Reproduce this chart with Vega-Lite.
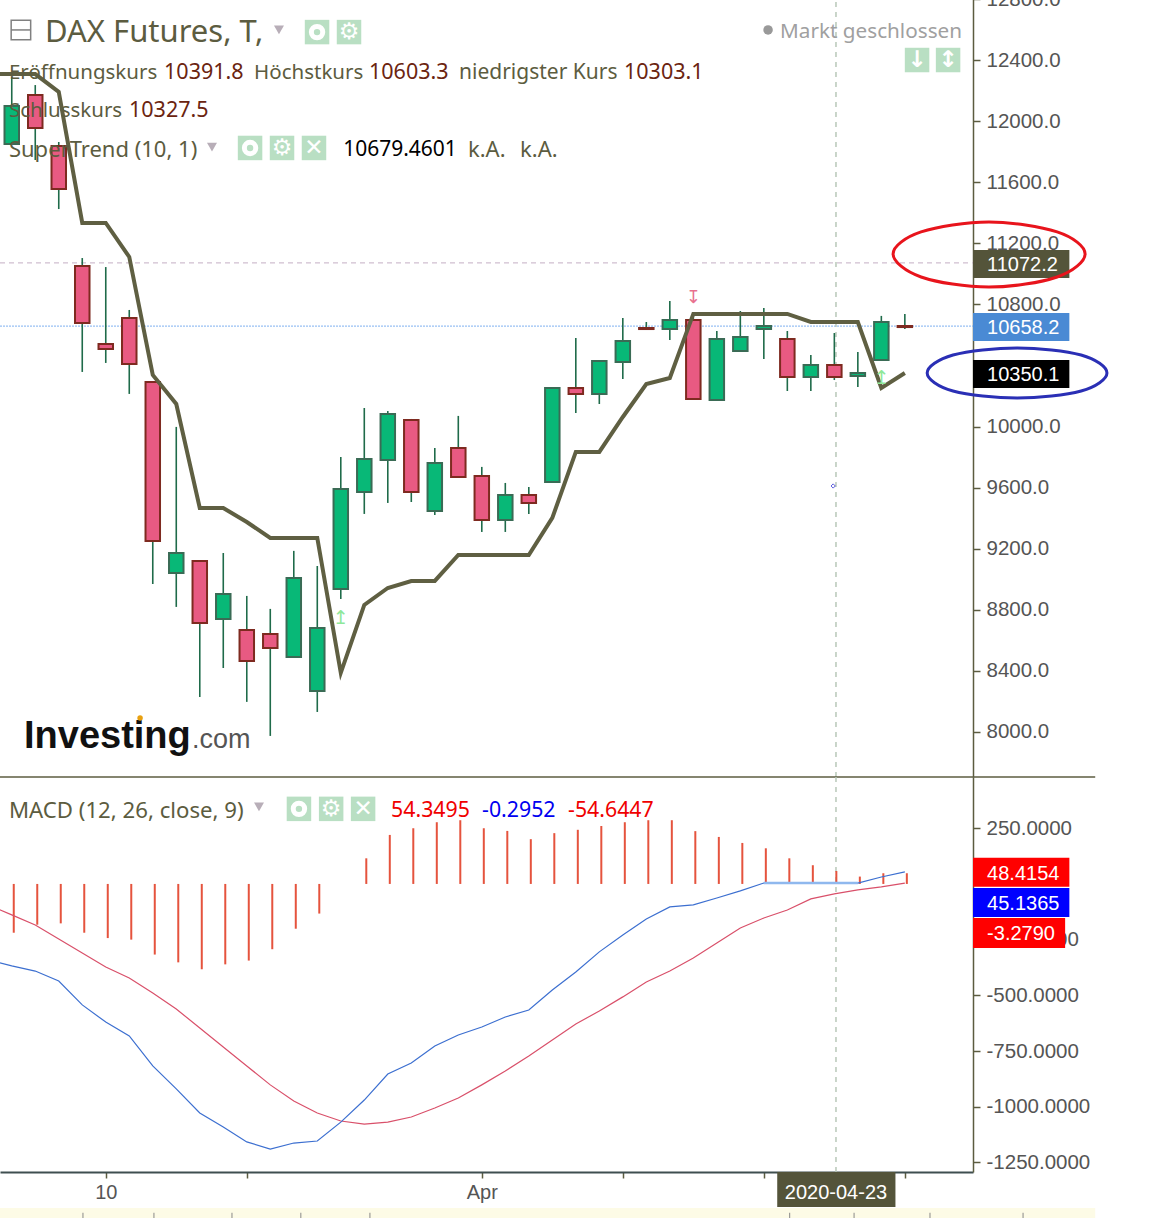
{"$schema":"https://vega.github.io/schema/vega-lite/v6.json","width":1153,"height":1218,"autosize":{"type":"none"},"padding":0,"background":"white","config":{"view":{"stroke":null},"text":{"font":"Noto Sans","align":"left","baseline":"middle","dy":2}},
"datasets":{
"candles":[
{"i":0,"date":"2020-03-04","dir":"up","open":11851,"high":12290,"low":11851,"close":12100,"hist":-219},
{"i":1,"date":"2020-03-05","dir":"down","open":12172,"high":12237,"low":11746,"close":11956,"hist":-183},
{"i":2,"date":"2020-03-06","dir":"down","open":11838,"high":11864,"low":11425,"close":11556,"hist":-177},
{"i":3,"date":"2020-03-09","dir":"down","open":11052,"high":11104,"low":10358,"close":10679,"hist":-219},
{"i":4,"date":"2020-03-10","dir":"down","open":10541,"high":11045,"low":10417,"close":10508,"hist":-243},
{"i":5,"date":"2020-03-11","dir":"down","open":10711,"high":10764,"low":10214,"close":10410,"hist":-250},
{"i":6,"date":"2020-03-12","dir":"down","open":10292,"high":10292,"low":8969,"close":9251,"hist":-317},
{"i":7,"date":"2020-03-13","dir":"up","open":9041,"high":9998,"low":8819,"close":9172,"hist":-352},
{"i":8,"date":"2020-03-16","dir":"down","open":9120,"high":9120,"low":8229,"close":8714,"hist":-383},
{"i":9,"date":"2020-03-17","dir":"up","open":8740,"high":9172,"low":8419,"close":8904,"hist":-361},
{"i":10,"date":"2020-03-18","dir":"down","open":8668,"high":8891,"low":8197,"close":8465,"hist":-344},
{"i":11,"date":"2020-03-19","dir":"down","open":8642,"high":8806,"low":7974,"close":8550,"hist":-293},
{"i":12,"date":"2020-03-20","dir":"up","open":8491,"high":9186,"low":8491,"close":9009,"hist":-201},
{"i":13,"date":"2020-03-23","dir":"up","open":8269,"high":9087,"low":8131,"close":8681,"hist":-133},
{"i":14,"date":"2020-03-24","dir":"up","open":8937,"high":9801,"low":8871,"close":9592,"hist":0},
{"i":15,"date":"2020-03-25","dir":"up","open":9572,"high":10122,"low":9428,"close":9788,"hist":115},
{"i":16,"date":"2020-03-26","dir":"up","open":9781,"high":10102,"low":9500,"close":10083,"hist":220},
{"i":17,"date":"2020-03-27","dir":"down","open":10043,"high":10050,"low":9506,"close":9572,"hist":250},
{"i":18,"date":"2020-03-30","dir":"up","open":9447,"high":9860,"low":9421,"close":9762,"hist":277},
{"i":19,"date":"2020-03-31","dir":"down","open":9860,"high":10070,"low":9670,"close":9670,"hist":286},
{"i":20,"date":"2020-04-01","dir":"down","open":9677,"high":9736,"low":9310,"close":9389,"hist":250},
{"i":21,"date":"2020-04-02","dir":"up","open":9389,"high":9631,"low":9310,"close":9552,"hist":238},
{"i":22,"date":"2020-04-03","dir":"down","open":9552,"high":9605,"low":9428,"close":9500,"hist":201},
{"i":23,"date":"2020-04-06","dir":"up","open":9637,"high":10253,"low":9637,"close":10253,"hist":228},
{"i":24,"date":"2020-04-07","dir":"down","open":10253,"high":10580,"low":10089,"close":10214,"hist":243},
{"i":25,"date":"2020-04-08","dir":"up","open":10214,"high":10430,"low":10148,"close":10430,"hist":260},
{"i":26,"date":"2020-04-09","dir":"up","open":10423,"high":10711,"low":10312,"close":10561,"hist":277},
{"i":27,"date":"2020-04-13","dir":"down","open":10646,"high":10685,"low":10639,"close":10639,"hist":286},
{"i":28,"date":"2020-04-14","dir":"up","open":10639,"high":10823,"low":10567,"close":10698,"hist":286},
{"i":29,"date":"2020-04-15","dir":"down","open":10698,"high":10738,"low":10181,"close":10181,"hist":237},
{"i":30,"date":"2020-04-16","dir":"up","open":10174,"high":10626,"low":10174,"close":10574,"hist":211},
{"i":31,"date":"2020-04-17","dir":"up","open":10495,"high":10757,"low":10495,"close":10587,"hist":184},
{"i":32,"date":"2020-04-20","dir":"up","open":10639,"high":10777,"low":10443,"close":10659,"hist":160},
{"i":33,"date":"2020-04-21","dir":"down","open":10574,"high":10626,"low":10233,"close":10325,"hist":115},
{"i":34,"date":"2020-04-22","dir":"up","open":10325,"high":10469,"low":10233,"close":10404,"hist":84},
{"i":35,"date":"2020-04-23","dir":"down","open":10404,"high":10613,"low":10305,"close":10325,"hist":58},
{"i":36,"date":"2020-04-24","dir":"up","open":10332,"high":10489,"low":10260,"close":10351,"hist":33},
{"i":37,"date":"2020-04-27","dir":"up","open":10436,"high":10725,"low":10436,"close":10685,"hist":48},
{"i":38,"date":"2020-04-28","dir":"down","open":10659,"high":10738,"low":10639,"close":10652,"hist":48}
],
"lines":[
{"i":-1,"st":12309,"macd":-341,"signal":-94},
{"i":0,"st":12309,"macd":-368,"signal":-139},
{"i":1,"st":12309,"macd":-391,"signal":-184},
{"i":2,"st":12192,"macd":-436,"signal":-247},
{"i":3,"st":11334,"macd":-543,"signal":-310},
{"i":4,"st":11334,"macd":-620,"signal":-373},
{"i":5,"st":11111,"macd":-682,"signal":-422},
{"i":6,"st":10338,"macd":-817,"signal":-489},
{"i":7,"st":10148,"macd":-920,"signal":-561},
{"i":8,"st":9467,"macd":-1028,"signal":-647},
{"i":9,"st":9467,"macd":-1091,"signal":-732},
{"i":10,"st":9375,"macd":-1158,"signal":-817},
{"i":11,"st":9271,"macd":-1190,"signal":-902},
{"i":12,"st":9271,"macd":-1163,"signal":-974},
{"i":13,"st":9271,"macd":-1154,"signal":-1028},
{"i":14,"st":8387,"macd":-1069,"signal":-1064},
{"i":15,"st":8832,"macd":-970,"signal":-1078},
{"i":16,"st":8943,"macd":-853,"signal":-1069},
{"i":17,"st":8989,"macd":-804,"signal":-1046},
{"i":18,"st":8989,"macd":-727,"signal":-1006},
{"i":19,"st":9159,"macd":-678,"signal":-961},
{"i":20,"st":9159,"macd":-642,"signal":-902},
{"i":21,"st":9159,"macd":-597,"signal":-840},
{"i":22,"st":9159,"macd":-566,"signal":-772},
{"i":23,"st":9402,"macd":-476,"signal":-700},
{"i":24,"st":9834,"macd":-395,"signal":-629},
{"i":25,"st":9834,"macd":-305,"signal":-570},
{"i":26,"st":10063,"macd":-229,"signal":-507},
{"i":27,"st":10279,"macd":-157,"signal":-440},
{"i":28,"st":10318,"macd":-103,"signal":-391},
{"i":29,"st":10738,"macd":-94,"signal":-332},
{"i":30,"st":10738,"macd":-63,"signal":-265},
{"i":31,"st":10738,"macd":-31,"signal":-198},
{"i":32,"st":10738,"macd":4,"signal":-153},
{"i":33,"st":10738,"macd":4,"signal":-117},
{"i":34,"st":10685,"macd":4,"signal":-67},
{"i":35,"st":10685,"macd":4,"signal":-45},
{"i":36,"st":10685,"macd":4,"signal":-27},
{"i":37,"st":10253,"macd":31,"signal":-13},
{"i":38,"st":10351,"macd":54,"signal":4}
],
"topText":[
{"t":"Eröffnungskurs","i":-0.12,"v":12329,"tone":"tight"},
{"t":"10391.8","i":6.48,"v":12329,"tone":"value"},
{"t":"Höchstkurs","i":10.31,"v":12329,"tone":"tight"},
{"t":"10603.3","i":15.2,"v":12329,"tone":"value"},
{"t":"niedrigster Kurs","i":19.03,"v":12329,"tone":"label"},
{"t":"10303.1","i":26.05,"v":12329,"tone":"value"},
{"t":"Schlusskurs","i":-0.12,"v":12080,"tone":"tight"},
{"t":"10327.5","i":4.99,"v":12080,"tone":"value"},
{"t":"SuperTrend (10, 1)","i":-0.12,"v":11825,"tone":"wide"},
{"t":"10679.4601","i":14.1,"v":11825,"tone":"black"},
{"t":"k.A.","i":19.41,"v":11825,"tone":"wide"},
{"t":"k.A.","i":21.63,"v":11825,"tone":"wide"}
],
"botText":[
{"t":"MACD (12, 26, close, 9)","i":-0.12,"v":337,"c":"label"},
{"t":"54.3495","i":16.14,"v":337,"c":"red"},
{"t":"-0.2952","i":20.01,"v":337,"c":"blue"},
{"t":"-54.6447","i":23.67,"v":337,"c":"red"}
],
"topIcons":[{"i":12.99,"v":12584,"k":"eye"},{"i":14.35,"v":12584,"k":"gear"},{"i":10.14,"v":11825,"k":"eye"},{"i":11.5,"v":11825,"k":"gear"},{"i":12.86,"v":11825,"k":"x"},{"i":38.52,"v":12401,"k":"down"},{"i":39.84,"v":12401,"k":"both"}],
"botIcons":[{"i":12.22,"v":337,"k":"eye"},{"i":13.59,"v":337,"k":"gear"},{"i":14.95,"v":337,"k":"x"}],
"redEllipse":[{"n":0,"i":45.67,"v":11131},{"n":1,"i":44.48,"v":10980},{"n":2,"i":41.58,"v":10914},{"n":3,"i":38.69,"v":10980},{"n":4,"i":37.5,"v":11131},{"n":5,"i":38.69,"v":11275},{"n":6,"i":41.58,"v":11340},{"n":7,"i":44.48,"v":11275}],
"blueEllipse":[{"n":0,"i":46.6,"v":10351},{"n":1,"i":45.5,"v":10233},{"n":2,"i":42.78,"v":10188},{"n":3,"i":40.05,"v":10233},{"n":4,"i":38.95,"v":10351},{"n":5,"i":40.05,"v":10469},{"n":6,"i":42.78,"v":10515},{"n":7,"i":45.5,"v":10469}]
},
"encoding":{"x":{"field":"i","type":"quantitative","title":null,"scale":{"domain":[-0.5,40.9],"range":[0,973],"nice":false,"zero":false,"padding":0},"axis":{"orient":"bottom","offset":-46,"values":[4,10,20,26,32,38],"labelExpr":"datum.value==4?'10':datum.value==20?'Apr':''","grid":false,"domainColor":"#3f4f50","domainWidth":2,"tickColor":"#5c5c40","tickWidth":1.5,"tickSize":6,"labelColor":"#555555","labelFont":"Liberation Sans","labelFontSize":20,"labelPadding":4,"labelOverlap":false,"labelBound":false,"labelFlush":false}}},
"layer":[
{"layer":[
{"data":{"values":[{"i":-0.5,"i2":40.9,"v":11072.2}]},"mark":{"type":"rule","color":"#c4aec4","strokeWidth":1,"strokeDash":[5,4]},"encoding":{"x2":{"field":"i2"},"y":{"field":"v","type":"quantitative","title":null,"scale":{"domain":[7705,12800],"range":[777,-0.9],"nice":false,"zero":false},"axis":{"orient":"right","offset":-180,"values":[8000,8400,8800,9200,9600,10000,10400,10800,11200,11600,12000,12400,12800],"labelExpr":"datum.value==10400?'':format(datum.value,'.1f')","grid":false,"domainColor":"#5c5c40","domainWidth":1.5,"tickColor":"#5c5c40","tickWidth":1.5,"tickSize":7,"labelColor":"#555555","labelFont":"Liberation Sans","labelFontSize":20.5,"labelPadding":6,"labelOverlap":false,"labelBound":false,"labelFlush":false}}}},
{"data":{"values":[{"i":-0.5,"i2":40.9,"v":10658.2}]},"mark":{"type":"rule","color":"#7fb0f0","strokeWidth":1,"strokeDash":[2,1]},"encoding":{"x2":{"field":"i2"},"y":{"field":"v","type":"quantitative","title":null,"scale":{"domain":[7705,12800],"range":[777,-0.9],"nice":false,"zero":false}}}},
{"data":{"values":[{"i":35.07,"a":7705,"b":12800}]},"mark":{"type":"rule","color":"#b8c8b8","strokeWidth":1.5,"strokeDash":[5,5]},"encoding":{"y":{"field":"a","type":"quantitative","title":null,"scale":{"domain":[7705,12800],"range":[777,-0.9],"nice":false,"zero":false}},"y2":{"field":"b"}}},
{"data":{"name":"candles"},"mark":{"type":"rule","color":"#1f6b4a","strokeWidth":1.6},"encoding":{"y":{"field":"low","type":"quantitative","title":null,"scale":{"domain":[7705,12800],"range":[777,-0.9],"nice":false,"zero":false}},"y2":{"field":"high"}}},
{"data":{"name":"candles"},"mark":{"type":"bar","size":14.5,"strokeWidth":2},"encoding":{"y":{"field":"open","type":"quantitative","title":null,"scale":{"domain":[7705,12800],"range":[777,-0.9],"nice":false,"zero":false}},"y2":{"field":"close"},"fill":{"field":"dir","type":"nominal","legend":null,"scale":{"domain":["up","down"],"range":["#08b877","#e85a82"]}},"stroke":{"field":"dir","type":"nominal","legend":null,"scale":{"domain":["up","down"],"range":["#3a6b55","#7e2a20"]}}}},
{"data":{"name":"lines"},"mark":{"type":"line","color":"#5f5f42","strokeWidth":4,"clip":true},"encoding":{"y":{"field":"st","type":"quantitative","title":null,"scale":{"domain":[7705,12800],"range":[777,-0.9],"nice":false,"zero":false}}}},
{"data":{"values":[{"i":14,"v":8747,"t":"↥"},{"i":37,"v":10318,"t":"↥"}]},"mark":{"type":"text","font":"DejaVu Sans","fontSize":19,"align":"center","dy":0,"color":"#8fe89a"},"encoding":{"text":{"field":"t"},"y":{"field":"v","type":"quantitative","title":null,"scale":{"domain":[7705,12800],"range":[777,-0.9],"nice":false,"zero":false}}}},
{"data":{"values":[{"i":29,"v":10842,"t":"↧"}]},"mark":{"type":"text","font":"DejaVu Sans","fontSize":18,"align":"center","dy":0,"color":"#e8708f"},"encoding":{"text":{"field":"t"},"y":{"field":"v","type":"quantitative","title":null,"scale":{"domain":[7705,12800],"range":[777,-0.9],"nice":false,"zero":false}}}},
{"data":{"values":[{"i":34.95,"v":9611}]},"mark":{"type":"point","shape":"diamond","size":18,"color":"#1a1ad0","strokeWidth":1},"encoding":{"y":{"field":"v","type":"quantitative","title":null,"scale":{"domain":[7705,12800],"range":[777,-0.9],"nice":false,"zero":false}}}},
{"data":{"values":[{"i":-0.5,"i2":46.1,"v":7705}]},"mark":{"type":"rule","color":"#5c5c40","strokeWidth":1.5},"encoding":{"x2":{"field":"i2"},"y":{"field":"v","type":"quantitative","title":null,"scale":{"domain":[7705,12800],"range":[777,-0.9],"nice":false,"zero":false}}}},
{"data":{"values":[{"i":0.52,"v":7981,"t":"Investing"}]},"mark":{"type":"text","font":"Liberation Sans","fontWeight":"bold","fontSize":38,"color":"#111111"},"encoding":{"text":{"field":"t"},"y":{"field":"v","type":"quantitative","title":null,"scale":{"domain":[7705,12800],"range":[777,-0.9],"nice":false,"zero":false}}}},
{"data":{"values":[{"i":7.67,"v":7960,"t":".com"}]},"mark":{"type":"text","font":"Liberation Sans","fontSize":27,"color":"#555555"},"encoding":{"text":{"field":"t"},"y":{"field":"v","type":"quantitative","title":null,"scale":{"domain":[7705,12800],"range":[777,-0.9],"nice":false,"zero":false}}}},
{"data":{"values":[{"i":5.46,"v":8092}]},"mark":{"type":"point","filled":true,"size":30,"color":"#e8a010","opacity":1},"encoding":{"y":{"field":"v","type":"quantitative","title":null,"scale":{"domain":[7705,12800],"range":[777,-0.9],"nice":false,"zero":false}}}},
{"data":{"name":"topText"},"transform":[{"filter":"datum.tone=='label'"}],"mark":{"type":"text","fontSize":21,"color":"#5c5c40"},"encoding":{"text":{"field":"t"},"y":{"field":"v","type":"quantitative","title":null,"scale":{"domain":[7705,12800],"range":[777,-0.9],"nice":false,"zero":false}}}},
{"data":{"name":"topText"},"transform":[{"filter":"datum.tone=='tight'"}],"mark":{"type":"text","fontSize":20.5,"color":"#5c5c40"},"encoding":{"text":{"field":"t"},"y":{"field":"v","type":"quantitative","title":null,"scale":{"domain":[7705,12800],"range":[777,-0.9],"nice":false,"zero":false}}}},
{"data":{"name":"topText"},"transform":[{"filter":"datum.tone=='wide'"}],"mark":{"type":"text","fontSize":22,"color":"#5c5c40"},"encoding":{"text":{"field":"t"},"y":{"field":"v","type":"quantitative","title":null,"scale":{"domain":[7705,12800],"range":[777,-0.9],"nice":false,"zero":false}}}},
{"data":{"name":"topText"},"transform":[{"filter":"datum.tone=='value'"}],"mark":{"type":"text","fontSize":21.5,"color":"#6b2410"},"encoding":{"text":{"field":"t"},"y":{"field":"v","type":"quantitative","title":null,"scale":{"domain":[7705,12800],"range":[777,-0.9],"nice":false,"zero":false}}}},
{"data":{"name":"topText"},"transform":[{"filter":"datum.tone=='black'"}],"mark":{"type":"text","fontSize":21,"color":"#000000"},"encoding":{"text":{"field":"t"},"y":{"field":"v","type":"quantitative","title":null,"scale":{"domain":[7705,12800],"range":[777,-0.9],"nice":false,"zero":false}}}},
{"data":{"values":[{"i":1.415,"v":12591,"t":"DAX Futures, T,"}]},"mark":{"type":"text","fontSize":31,"color":"#5c5c40"},"encoding":{"text":{"field":"t"},"y":{"field":"v","type":"quantitative","title":null,"scale":{"domain":[7705,12800],"range":[777,-0.9],"nice":false,"zero":false}}}},
{"data":{"values":[{"i":32.69,"v":12598,"t":"Markt geschlossen"}]},"mark":{"type":"text","fontSize":20.7,"color":"#a0a0a0"},"encoding":{"text":{"field":"t"},"y":{"field":"v","type":"quantitative","title":null,"scale":{"domain":[7705,12800],"range":[777,-0.9],"nice":false,"zero":false}}}},
{"data":{"values":[{"i":32.18,"v":12598}]},"mark":{"type":"point","filled":true,"size":90,"color":"#999999","opacity":1},"encoding":{"y":{"field":"v","type":"quantitative","title":null,"scale":{"domain":[7705,12800],"range":[777,-0.9],"nice":false,"zero":false}}}},
{"data":{"values":[{"i":0.39,"v":12598}]},"mark":{"type":"point","shape":"square","size":380,"color":"#808080","fill":"white","fillOpacity":1,"strokeWidth":1.5},"encoding":{"y":{"field":"v","type":"quantitative","title":null,"scale":{"domain":[7705,12800],"range":[777,-0.9],"nice":false,"zero":false}}}},
{"data":{"values":[{"i":-0.03,"i2":0.81,"v":12598}]},"mark":{"type":"rule","color":"#808080","strokeWidth":1.5},"encoding":{"x2":{"field":"i2"},"y":{"field":"v","type":"quantitative","title":null,"scale":{"domain":[7705,12800],"range":[777,-0.9],"nice":false,"zero":false}}}},
{"data":{"values":[{"i":11.37,"v":12598},{"i":8.52,"v":11831}]},"mark":{"type":"point","shape":"triangle-down","filled":true,"size":100,"color":"#b8aeb8","opacity":1},"encoding":{"y":{"field":"v","type":"quantitative","title":null,"scale":{"domain":[7705,12800],"range":[777,-0.9],"nice":false,"zero":false}}}},
{"data":{"name":"topIcons"},"mark":{"type":"point","shape":"square","filled":true,"size":600,"color":"#b9dfc3","opacity":1},"encoding":{"y":{"field":"v","type":"quantitative","title":null,"scale":{"domain":[7705,12800],"range":[777,-0.9],"nice":false,"zero":false}}}},
{"data":{"name":"topIcons"},"transform":[{"filter":"datum.k=='eye'"}],"mark":{"type":"point","size":130,"color":"white","strokeWidth":5,"opacity":1},"encoding":{"y":{"field":"v","type":"quantitative","title":null,"scale":{"domain":[7705,12800],"range":[777,-0.9],"nice":false,"zero":false}}}},
{"data":{"name":"topIcons"},"transform":[{"filter":"datum.k!='eye'"},{"lookup":"k","from":{"data":{"values":[{"k":"gear","g":"⚙"},{"k":"x","g":"✕"},{"k":"down","g":"↓"},{"k":"both","g":"↕"}]},"key":"k","fields":["g"]}}],"mark":{"type":"text","font":"DejaVu Sans","fontWeight":"bold","fontSize":23,"align":"center","dy":0,"color":"white"},"encoding":{"text":{"field":"g"},"y":{"field":"v","type":"quantitative","title":null,"scale":{"domain":[7705,12800],"range":[777,-0.9],"nice":false,"zero":false}}}},
{"data":{"values":[{"i":40.9,"i2":45,"a":10973,"b":11157}]},"mark":{"type":"rect","color":"#54543a"},"encoding":{"x2":{"field":"i2"},"y":{"field":"a","type":"quantitative","title":null,"scale":{"domain":[7705,12800],"range":[777,-0.9],"nice":false,"zero":false}},"y2":{"field":"b"}}},
{"data":{"values":[{"i":40.9,"i2":45,"a":10561,"b":10744}]},"mark":{"type":"rect","color":"#4a8ad4"},"encoding":{"x2":{"field":"i2"},"y":{"field":"a","type":"quantitative","title":null,"scale":{"domain":[7705,12800],"range":[777,-0.9],"nice":false,"zero":false}},"y2":{"field":"b"}}},
{"data":{"values":[{"i":40.9,"i2":45,"a":10253,"b":10436}]},"mark":{"type":"rect","color":"#000000"},"encoding":{"x2":{"field":"i2"},"y":{"field":"a","type":"quantitative","title":null,"scale":{"domain":[7705,12800],"range":[777,-0.9],"nice":false,"zero":false}},"y2":{"field":"b"}}},
{"data":{"values":[{"i":41.5,"v":11065,"t":"11072.2"},{"i":41.5,"v":10652,"t":"10658.2"},{"i":41.5,"v":10345,"t":"10350.1"}]},"mark":{"type":"text","font":"Liberation Sans","fontSize":20,"dy":1,"color":"white"},"encoding":{"text":{"field":"t"},"y":{"field":"v","type":"quantitative","title":null,"scale":{"domain":[7705,12800],"range":[777,-0.9],"nice":false,"zero":false}}}},
{"data":{"name":"redEllipse"},"mark":{"type":"line","color":"#e8141c","strokeWidth":3,"interpolate":"cardinal-closed","clip":false},"encoding":{"order":{"field":"n"},"y":{"field":"v","type":"quantitative","title":null,"scale":{"domain":[7705,12800],"range":[777,-0.9],"nice":false,"zero":false}}}},
{"data":{"name":"blueEllipse"},"mark":{"type":"line","color":"#2a2fb5","strokeWidth":3,"interpolate":"cardinal-closed","clip":false},"encoding":{"order":{"field":"n"},"y":{"field":"v","type":"quantitative","title":null,"scale":{"domain":[7705,12800],"range":[777,-0.9],"nice":false,"zero":false}}}}
]},
{"layer":[
{"data":{"values":[{"i":35.07,"a":-1293,"b":480}]},"mark":{"type":"rule","color":"#b8c8b8","strokeWidth":1.5,"strokeDash":[5,5]},"encoding":{"y":{"field":"a","type":"quantitative","title":null,"scale":{"domain":[-1293,480],"range":[1172,777],"nice":false,"zero":false},"axis":{"orient":"right","offset":-180,"values":[-1250,-1000,-750,-500,-250,0,250],"labelExpr":"datum.value==0?'':replace(format(datum.value,'.4f'),'\u2212','-')","grid":false,"domainColor":"#5c5c40","domainWidth":1.5,"tickColor":"#5c5c40","tickWidth":1.5,"tickSize":7,"labelColor":"#555555","labelFont":"Liberation Sans","labelFontSize":20.5,"labelPadding":6,"labelOverlap":false,"labelBound":false,"labelFlush":false}},"y2":{"field":"b"}}},
{"data":{"name":"candles"},"transform":[{"filter":"datum.hist!=0"}],"mark":{"type":"rule","color":"#e5533d","strokeWidth":2,"xOffset":2},"encoding":{"y":{"field":"hist","type":"quantitative","title":null,"scale":{"domain":[-1293,480],"range":[1172,777],"nice":false,"zero":false}},"y2":{"datum":0}}},
{"data":{"name":"lines"},"mark":{"type":"line","color":"#d9506a","strokeWidth":1.2,"clip":true},"encoding":{"y":{"field":"signal","type":"quantitative","title":null,"scale":{"domain":[-1293,480],"range":[1172,777],"nice":false,"zero":false}}}},
{"data":{"name":"lines"},"mark":{"type":"line","color":"#3c6fd0","strokeWidth":1.2,"clip":true},"encoding":{"y":{"field":"macd","type":"quantitative","title":null,"scale":{"domain":[-1293,480],"range":[1172,777],"nice":false,"zero":false}}}},
{"data":{"name":"lines"},"transform":[{"filter":"datum.i>=32 && datum.i<=36"}],"mark":{"type":"line","color":"#8fb8ee","strokeWidth":2.5},"encoding":{"y":{"field":"macd","type":"quantitative","title":null,"scale":{"domain":[-1293,480],"range":[1172,777],"nice":false,"zero":false}}}},
{"data":{"values":[{"i":32.57,"i2":37.6,"a":-1293,"b":-1450}]},"mark":{"type":"rect","color":"#54543a"},"encoding":{"x2":{"field":"i2"},"y":{"field":"a","type":"quantitative","title":null,"scale":{"domain":[-1293,480],"range":[1172,777],"nice":false,"zero":false}},"y2":{"field":"b"}}},
{"data":{"values":[{"i":35.07,"v":-1383,"t":"2020-04-23"}]},"mark":{"type":"text","font":"Liberation Sans","fontSize":20,"align":"center","dy":1,"color":"white"},"encoding":{"text":{"field":"t"},"y":{"field":"v","type":"quantitative","title":null,"scale":{"domain":[-1293,480],"range":[1172,777],"nice":false,"zero":false}}}},
{"data":{"values":[{"i":-0.5,"i2":46.1,"a":-1455,"b":-1500}]},"mark":{"type":"rect","color":"#fdfbe6"},"encoding":{"x2":{"field":"i2"},"y":{"field":"a","type":"quantitative","title":null,"scale":{"domain":[-1293,480],"range":[1172,777],"nice":false,"zero":false}},"y2":{"field":"b"}}},
{"data":{"values":[{"i":3.03,"a":-1476,"b":-1500},{"i":6.05,"a":-1476,"b":-1500},{"i":9.37,"a":-1476,"b":-1500},{"i":12.3,"a":-1476,"b":-1500},{"i":15.24,"a":-1476,"b":-1500},{"i":33.1,"a":-1476,"b":-1500},{"i":35.84,"a":-1476,"b":-1500},{"i":39.07,"a":-1476,"b":-1500},{"i":43.03,"a":-1476,"b":-1500}]},"mark":{"type":"rule","color":"#888888","strokeWidth":1},"encoding":{"y":{"field":"a","type":"quantitative","title":null,"scale":{"domain":[-1293,480],"range":[1172,777],"nice":false,"zero":false}},"y2":{"field":"b"}}},
{"data":{"name":"botText"},"transform":[{"filter":"datum.c=='label'"}],"mark":{"type":"text","fontSize":22.2,"color":"#5c5c40"},"encoding":{"text":{"field":"t"},"y":{"field":"v","type":"quantitative","title":null,"scale":{"domain":[-1293,480],"range":[1172,777],"nice":false,"zero":false}}}},
{"data":{"name":"botText"},"transform":[{"filter":"datum.c=='red'"}],"mark":{"type":"text","fontSize":21.3,"color":"#f00000"},"encoding":{"text":{"field":"t"},"y":{"field":"v","type":"quantitative","title":null,"scale":{"domain":[-1293,480],"range":[1172,777],"nice":false,"zero":false}}}},
{"data":{"name":"botText"},"transform":[{"filter":"datum.c=='blue'"}],"mark":{"type":"text","fontSize":21.3,"color":"#0000f0"},"encoding":{"text":{"field":"t"},"y":{"field":"v","type":"quantitative","title":null,"scale":{"domain":[-1293,480],"range":[1172,777],"nice":false,"zero":false}}}},
{"data":{"values":[{"i":10.52,"v":346}]},"mark":{"type":"point","shape":"triangle-down","filled":true,"size":100,"color":"#b8aeb8","opacity":1},"encoding":{"y":{"field":"v","type":"quantitative","title":null,"scale":{"domain":[-1293,480],"range":[1172,777],"nice":false,"zero":false}}}},
{"data":{"name":"botIcons"},"mark":{"type":"point","shape":"square","filled":true,"size":600,"color":"#b9dfc3","opacity":1},"encoding":{"y":{"field":"v","type":"quantitative","title":null,"scale":{"domain":[-1293,480],"range":[1172,777],"nice":false,"zero":false}}}},
{"data":{"name":"botIcons"},"transform":[{"filter":"datum.k=='eye'"}],"mark":{"type":"point","size":130,"color":"white","strokeWidth":5,"opacity":1},"encoding":{"y":{"field":"v","type":"quantitative","title":null,"scale":{"domain":[-1293,480],"range":[1172,777],"nice":false,"zero":false}}}},
{"data":{"name":"botIcons"},"transform":[{"filter":"datum.k!='eye'"},{"lookup":"k","from":{"data":{"values":[{"k":"gear","g":"⚙"},{"k":"x","g":"✕"}]},"key":"k","fields":["g"]}}],"mark":{"type":"text","font":"DejaVu Sans","fontWeight":"bold","fontSize":23,"align":"center","dy":0,"color":"white"},"encoding":{"text":{"field":"g"},"y":{"field":"v","type":"quantitative","title":null,"scale":{"domain":[-1293,480],"range":[1172,777],"nice":false,"zero":false}}}},
{"data":{"values":[{"i":40.9,"i2":45,"a":-13,"b":117}]},"mark":{"type":"rect","color":"#ff0000"},"encoding":{"x2":{"field":"i2"},"y":{"field":"a","type":"quantitative","title":null,"scale":{"domain":[-1293,480],"range":[1172,777],"nice":false,"zero":false}},"y2":{"field":"b"}}},
{"data":{"values":[{"i":40.9,"i2":45,"a":-148,"b":-18}]},"mark":{"type":"rect","color":"#0000ff"},"encoding":{"x2":{"field":"i2"},"y":{"field":"a","type":"quantitative","title":null,"scale":{"domain":[-1293,480],"range":[1172,777],"nice":false,"zero":false}},"y2":{"field":"b"}}},
{"data":{"values":[{"i":40.9,"i2":44.82,"a":-287,"b":-153}]},"mark":{"type":"rect","color":"#ff0000"},"encoding":{"x2":{"field":"i2"},"y":{"field":"a","type":"quantitative","title":null,"scale":{"domain":[-1293,480],"range":[1172,777],"nice":false,"zero":false}},"y2":{"field":"b"}}},
{"data":{"values":[{"i":41.5,"v":49,"t":"48.4154"},{"i":41.5,"v":-85,"t":"45.1365"},{"i":41.5,"v":-220,"t":"-3.2790"}]},"mark":{"type":"text","font":"Liberation Sans","fontSize":20,"dy":1,"color":"white"},"encoding":{"text":{"field":"t"},"y":{"field":"v","type":"quantitative","title":null,"scale":{"domain":[-1293,480],"range":[1172,777],"nice":false,"zero":false}}}}
]}
],
"resolve":{"scale":{"y":"independent"},"axis":{"y":"independent"}}}
